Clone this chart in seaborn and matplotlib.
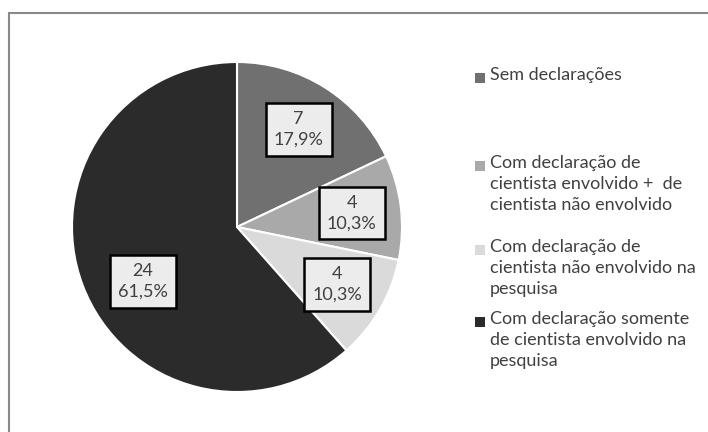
import matplotlib
matplotlib.use("Agg")
import matplotlib.pyplot as plt
import seaborn as sns
from matplotlib.patches import Rectangle
from matplotlib.lines import Line2D

categories = [
    "Sem declarações",
    "Com declaração de\ncientista envolvido +  de\ncientista não envolvido",
    "Com declaração de\ncientista não envolvido na\npesquisa",
    "Com declaração somente\nde cientista envolvido na\npesquisa",
]
values = [7, 4, 4, 24]
percent_labels = ["17,9%", "10,3%", "10,3%", "61,5%"]
colors = ["#707070", "#a9a9a9", "#dadada", "#2b2b2b"]

sns.set_theme(style="white")
plt.rcParams["font.family"] = ["Lato", "DejaVu Sans"]

W, H = 708, 432
fig = plt.figure(figsize=(W / 100, H / 100), dpi=100)
fig.patch.set_facecolor("white")

cx, cy, r = 237, 227, 165
ax = fig.add_axes([(cx - r) / W, (H - cy - r) / H, 2 * r / W, 2 * r / H])

labels = [f"{v}\n{p}" for v, p in zip(values, percent_labels)]
wedges, texts = ax.pie(
    values,
    colors=colors,
    startangle=90,
    counterclock=False,
    radius=1,
    labels=labels,
    labeldistance=0.7,
    wedgeprops=dict(edgecolor="white", linewidth=1.5),
    textprops=dict(fontsize=13, color="#404040", ha="center", va="center",
                   multialignment="center", linespacing=1.35),
    frame=False,
)
ax.set_xlim(-1, 1)
ax.set_ylim(-1, 1)
ax.set_aspect("auto")
ax.axis("off")
# Excel placed the large slice's label a bit lower than the default
texts[3].set_position((-0.57, -0.33))
for t in texts:
    t.set_horizontalalignment("center")
    t.set_verticalalignment("center")
    t.set_bbox(dict(boxstyle="square,pad=0.45", facecolor="#ececec",
                    edgecolor="black", linewidth=1.8))

# legend (manual placement to mimic Excel layout)
first_line_y = [78, 166, 250, 322]
text_x = 490
for lab, col, yy in zip(categories, colors, first_line_y):
    fig.text(text_x / W, 1 - (yy - 11) / H, lab, fontsize=13, color="#404040",
             ha="left", va="top", linespacing=1.4)
    fig.add_artist(Rectangle(((text_x - 15) / W, 1 - (yy + 5) / H), 10 / W, 10 / H,
                             transform=fig.transFigure, facecolor=col,
                             edgecolor="none"))

# outer frame (partially visible)
fig.add_artist(Line2D([9 / W, 1.0], [1 - 13 / H, 1 - 13 / H], color="#8a8a8a",
                      linewidth=1.5, transform=fig.transFigure))
fig.add_artist(Line2D([9 / W, 9 / W], [1 - 13 / H, 0.0], color="#8a8a8a",
                      linewidth=1.5, transform=fig.transFigure))

fig.savefig("out.png", dpi=100, facecolor="white")
